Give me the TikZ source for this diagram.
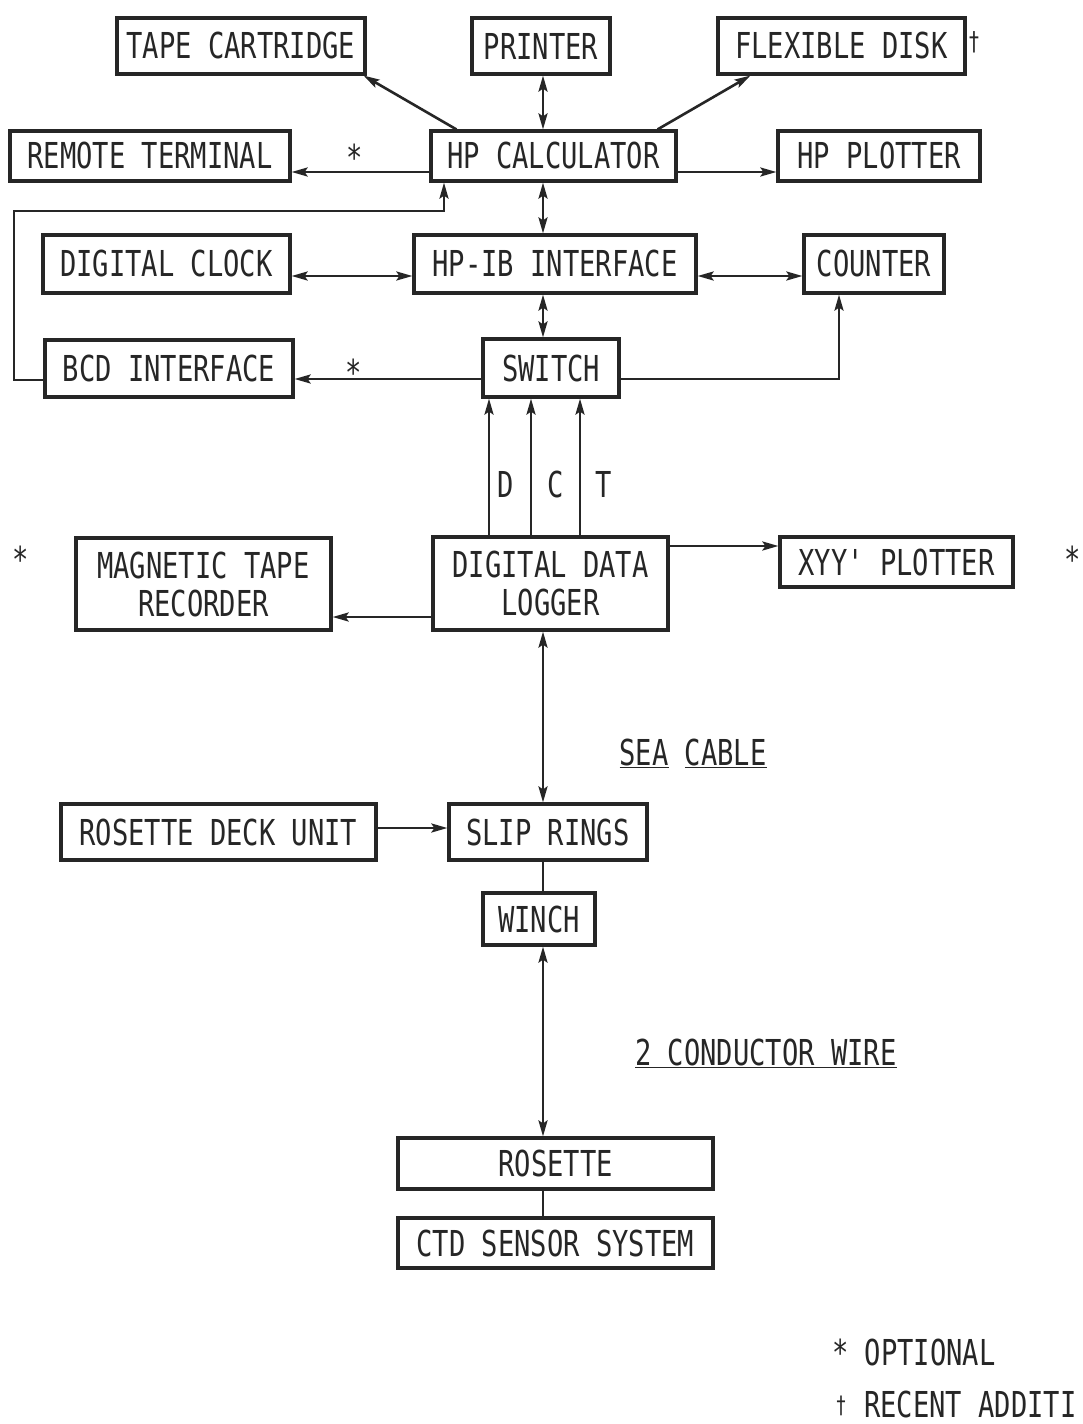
\documentclass[tikz,border=0pt]{standalone}
\usepackage{fontspec}
\newfontfamily\diagfont[FakeStretch=0.76]{DejaVu Sans Mono}
\usetikzlibrary{arrows.meta,calc}
\definecolor{ink}{HTML}{262626}
\begin{document}
\begin{tikzpicture}[x=1pt,y=-1pt,
  font=\diagfont\fontsize{35.7}{38}\selectfont,
  every node/.style={text=ink},
  box/.style={draw=ink,line width=3.2pt,inner sep=0pt,align=center},
  arr/.style={draw=ink,line width=2.6pt},
  tip/.style={-{Stealth[length=16pt,width=9pt,inset=3pt]}},
  dtip/.style={{Stealth[length=16pt,width=9pt,inset=3pt]}-{Stealth[length=16pt,width=9pt,inset=3pt]}}]
\useasboundingbox (0,0) rectangle (1082,1424);
\fill[white] (0,0) rectangle (1082,1424);
% boxes
\node[box,minimum width=248pt,minimum height=56pt] (tape) at (241,46) {TAPE CARTRIDGE};
\node[box,minimum width=138pt,minimum height=56pt] (printer) at (541,46) {PRINTER};
\node[box,minimum width=247pt,minimum height=56pt] (disk) at (841.5,46) {FLEXIBLE DISK};
\node[box,minimum width=280pt,minimum height=50pt] (remote) at (150,156) {REMOTE TERMINAL};
\node[box,minimum width=245pt,minimum height=50pt] (calc) at (553.5,156) {HP CALCULATOR};
\node[box,minimum width=202pt,minimum height=50pt] (plotter) at (879,156) {HP PLOTTER};
\node[box,minimum width=247pt,minimum height=58pt] (clock) at (166.5,264) {DIGITAL CLOCK};
\node[box,minimum width=282pt,minimum height=58pt] (hpib) at (555,264) {HP-IB INTERFACE};
\node[box,minimum width=140pt,minimum height=58pt] (counter) at (874,264) {COUNTER};
\node[box,minimum width=248pt,minimum height=57pt] (bcd) at (169,368.5) {BCD INTERFACE};
\node[box,minimum width=136pt,minimum height=58pt] (switch) at (551,368) {SWITCH};
\node[box,minimum width=255pt,minimum height=92pt] (mtr) at (203.5,584) {MAGNETIC TAPE\\RECORDER};
\node[box,minimum width=235pt,minimum height=93pt] (ddl) at (550.5,583.5) {DIGITAL DATA\\LOGGER};
\node[box,minimum width=233pt,minimum height=50pt] (xyy) at (896.5,562) {XYY' PLOTTER};
\node[box,minimum width=315pt,minimum height=56pt] (rdu) at (218.5,832) {ROSETTE DECK UNIT};
\node[box,minimum width=198pt,minimum height=56pt] (slip) at (548,832) {SLIP RINGS};
\node[box,minimum width=112pt,minimum height=52pt] (winch) at (539,919) {WINCH};
\node[box,minimum width=315pt,minimum height=51pt] (rosette) at (555.5,1163.5) {ROSETTE};
\node[box,minimum width=315pt,minimum height=50pt] (ctd) at (555.5,1243) {CTD SENSOR SYSTEM};
% helper coordinates
\coordinate (xm) at (543,0);
\coordinate (y172) at (0,172);
\coordinate (y276) at (0,276);
\coordinate (y379) at (0,379);
\coordinate (y544) at (0,546);
\coordinate (y617) at (0,617);
\coordinate (y827) at (0,828);
\coordinate (xd) at (489,0);
\coordinate (xc) at (531,0);
\coordinate (xt) at (580,0);
\coordinate (fb1) at (14,380);
\coordinate (fb2) at (14,211);
\coordinate (fb3) at (444,211);
\coordinate (k) at (839,379);
% connectors
\draw[arr,tip] ($(calc.north west)+(27,0)$) -- ($(tape.south east)+(-3,0)$);
\draw[arr,dtip] (calc.north -| xm) -- (printer.south -| xm);
\draw[arr,tip] ($(calc.north east)+(-20,0)$) -- ($(disk.south west)+(34,0)$);
\draw[arr,tip] (calc.west |- y172) -- (remote.east |- y172);
\draw[arr,tip] (calc.east |- y172) -- (plotter.west |- y172);
\draw[arr,tip] (bcd.west |- fb1) -- (fb1) -- (fb2) -- (fb3) -- (calc.south -| fb3);
\draw[arr,dtip] (calc.south -| xm) -- (hpib.north -| xm);
\draw[arr,dtip] (clock.east |- y276) -- (hpib.west |- y276);
\draw[arr,dtip] (hpib.east |- y276) -- (counter.west |- y276);
\draw[arr,dtip] (hpib.south -| xm) -- (switch.north -| xm);
\draw[arr,tip] (switch.west |- y379) -- (bcd.east |- y379);
\draw[arr,tip] (switch.east |- k) -- (k) -- (counter.south -| k);
\draw[arr,tip] (ddl.north -| xd) -- (switch.south -| xd);
\draw[arr,tip] (ddl.north -| xc) -- (switch.south -| xc);
\draw[arr,tip] (ddl.north -| xt) -- (switch.south -| xt);
\draw[arr,tip] (ddl.east |- y544) -- (xyy.west |- y544);
\draw[arr,tip] (ddl.west |- y617) -- (mtr.east |- y617);
\draw[arr,dtip] (ddl.south -| xm) -- (slip.north -| xm);
\draw[arr,tip] (rdu.east |- y827) -- (slip.west |- y827);
\draw[arr] (slip.south -| xm) -- (winch.north -| xm);
\draw[arr,dtip] (winch.south -| xm) -- (rosette.north -| xm);
\draw[arr] (rosette.south -| xm) -- (ctd.north -| xm);
% labels
\node (lD) at (506,484) {D};
\node (lC) at (556,484) {C};
\node (lT) at (604,484) {T};
\node[anchor=base] (s1) at (355,170) {*};
\node[anchor=base] (s2) at (354,385) {*};
\node[anchor=base] (s3) at (21,572) {*};
\node[anchor=base] (s4) at (1073,572) {*};
\node (dg1) at (974,42) {\fontsize{26}{26}\selectfont †};
\node[anchor=base] (sea) at (693,765) {\underline{SEA} \underline{CABLE}};
\node[anchor=base] (wire) at (766,1065) {\underline{2 CONDUCTOR WIRE}};
\node[anchor=base west,inner sep=0pt] (leg1) at (832,1365) {* OPTIONAL};
\node (dg2) at (841,1406) {\fontsize{24}{24}\selectfont †};
\node[anchor=base west,inner sep=0pt] (leg2) at (864,1417) {RECENT ADDITI};
\end{tikzpicture}
\end{document}
